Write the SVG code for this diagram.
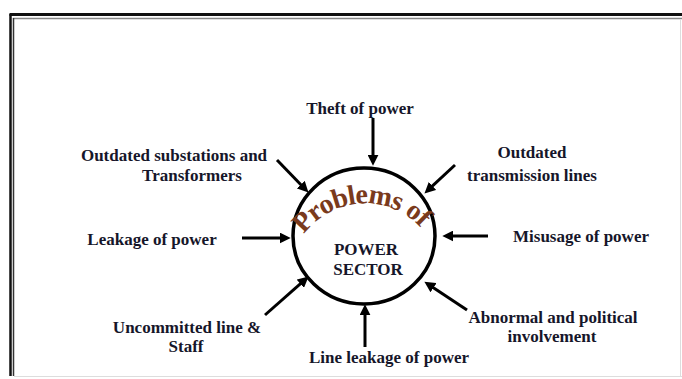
<svg xmlns="http://www.w3.org/2000/svg" width="682" height="379" viewBox="0 0 682 379">
<defs>
<style>
.t{font-family:"Liberation Serif","Times New Roman",serif;font-weight:bold;font-size:17px;fill:#16162a;text-anchor:middle}
.a{stroke:#000;stroke-width:3;fill:none;marker-end:url(#ah)}
</style>
<marker id="ah" markerUnits="userSpaceOnUse" markerWidth="11" markerHeight="11" refX="3" refY="5" orient="auto" viewBox="0 0 10 10">
<path d="M0,0 L10,5 L0,10 z" fill="#000"/>
</marker>
<path id="arc" d="M 300,240 A 76,76 0 0 1 430,240"/>
</defs>
<rect width="682" height="379" fill="#fff"/>
<g id="frame" fill="none">
<line x1="9.5" y1="14.5" x2="682" y2="14.5" stroke="#111" stroke-width="3"/>
<line x1="13" y1="18.5" x2="682" y2="18.5" stroke="#888" stroke-width="1.5"/>
<line x1="10.5" y1="14" x2="10.5" y2="376" stroke="#111" stroke-width="2.5"/>
<line x1="13.5" y1="18" x2="13.5" y2="376" stroke="#333" stroke-width="1.5"/>
<line x1="14" y1="376.5" x2="682" y2="376.5" stroke="#ddd" stroke-width="1"/>
<line x1="680.5" y1="19" x2="680.5" y2="376" stroke="#ddd" stroke-width="1"/>
</g>
<g id="center">
<ellipse cx="364" cy="236" rx="71" ry="68" fill="#fff" stroke="#000" stroke-width="3.5"/>
<text font-family="Liberation Serif,Times New Roman,serif" font-size="28" font-weight="bold" fill="#7a3a1c"><textPath href="#arc" startOffset="7" textLength="134" lengthAdjust="spacing">Problems of</textPath></text>
<text class="t" x="366" y="255">POWER</text>
<text class="t" x="368" y="275">SECTOR</text>
</g>
<g id="connectors">
<line class="a" x1="373" y1="118" x2="373" y2="158"/>
<line class="a" x1="277" y1="160" x2="303.1" y2="187"/>
<line class="a" x1="455" y1="165" x2="430.1" y2="188.2"/>
<line class="a" x1="242" y1="238" x2="283" y2="238"/>
<line class="a" x1="488" y1="236" x2="450" y2="236"/>
<line class="a" x1="265" y1="315" x2="302.8" y2="281.6"/>
<line class="a" x1="365" y1="347" x2="365" y2="312"/>
<line class="a" x1="467" y1="310" x2="430.8" y2="285.9"/>
</g>
<g id="n-theft"><text class="t" x="360" y="114">Theft of power</text></g>
<g id="n-substations"><text class="t" x="174" y="161">Outdated substations and</text><text class="t" x="192" y="181">Transformers</text></g>
<g id="n-transmission"><text class="t" x="532" y="158">Outdated</text><text class="t" x="532" y="181">transmission lines</text></g>
<g id="n-leakage"><text class="t" x="152" y="245">Leakage of power</text></g>
<g id="n-misusage"><text class="t" x="581" y="242">Misusage of power</text></g>
<g id="n-uncommitted"><text class="t" x="187" y="333">Uncommitted line &amp;</text><text class="t" x="186" y="352">Staff</text></g>
<g id="n-lineleak"><text class="t" x="389" y="363">Line leakage of power</text></g>
<g id="n-abnormal"><text class="t" x="553" y="323">Abnormal and political</text><text class="t" x="552" y="342">involvement</text></g>
</svg>
